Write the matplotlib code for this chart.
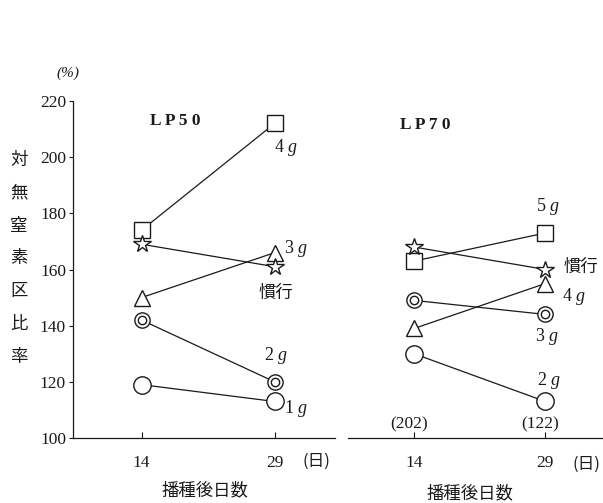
import matplotlib
matplotlib.use("Agg")
import matplotlib.pyplot as plt

plt.rcParams['font.family'] = ['Liberation Serif', 'Noto Sans CJK JP', 'DejaVu Sans']
plt.rcParams['mathtext.fontset'] = 'custom'
plt.rcParams['mathtext.it'] = 'Liberation Serif:italic'
plt.rcParams['mathtext.rm'] = 'Liberation Serif'

days = [14, 29]
day_ticks = ["14", "29"]
y_ticks = [100, 120, 140, 160, 180, 200, 220]

# LP50 series (ratio to no-nitrogen plot, %)
lp50_square = [174, 212]    # 4g
lp50_star = [169, 161]      # conventional
lp50_triangle = [150, 166]  # 3g
lp50_double = [142, 120]    # 2g
lp50_circle = [119, 113]    # 1g

# LP70 series
lp70_square = [163, 173]    # 5g
lp70_star = [168, 160]      # conventional
lp70_triangle = [139, 155]  # 4g
lp70_double = [149, 144]    # 3g
lp70_circle = [130, 113]    # 2g

lp70_base = ["(202)", "(122)"]

INK = "#1a1a1a"
JP = ['Noto Sans CJK JP', 'DejaVu Sans']

fig = plt.figure(figsize=(6.03, 5.03), dpi=100)
W, H = 603.0, 503.0

def px_axes(x0, x1, y_bottom, y_top):
    return fig.add_axes([x0 / W, (H - y_bottom) / H, (x1 - x0) / W, (y_bottom - y_top) / H])

ax1 = px_axes(73, 335, 438, 101)
ax2 = px_axes(348, 603, 438, 101)

ax1.set_xlim(6.28, 35.8)
ax2.set_xlim(6.44, 35.6)
for ax in (ax1, ax2):
    ax.set_ylim(100, 220)
    ax.set_facecolor("none")
    ax.spines['top'].set_visible(False)
    ax.spines['right'].set_visible(False)
    ax.spines['bottom'].set_color(INK)
    ax.spines['left'].set_color(INK)
    ax.spines['bottom'].set_linewidth(0.9)
    ax.spines['left'].set_linewidth(0.9)
    ax.set_xticks(days)
    ax.set_xticklabels(day_ticks, fontsize=12.5, color=INK)
    ax.tick_params(axis='x', direction='in', length=4, width=0.8, color=INK, pad=12)

ax1.set_yticks(y_ticks)
ax1.set_yticklabels([str(v) for v in y_ticks], fontsize=12.5, color=INK)
ax1.tick_params(axis='y', direction='out', length=3, width=0.8, color=INK, pad=2)
ax2.spines['left'].set_visible(False)
ax2.set_yticks([])

mk = dict(markerfacecolor='white', markeredgecolor=INK, markeredgewidth=1.0,
          color=INK, linewidth=0.9, clip_on=False)

def draw_panel(ax, square, star, triangle, double, circle):
    ax.plot(days, square, marker='s', markersize=12, zorder=3, **mk)
    ax.plot(days, star, marker='*', markersize=13, zorder=4, **mk)
    ax.plot(days, triangle, marker='^', markersize=11.5, zorder=3, **mk)
    ax.plot(days, double, marker='o', markersize=11, zorder=3, **mk)
    ax.plot(days, double, linestyle='none', marker='o', markersize=6,
            markerfacecolor='white', markeredgecolor=INK, markeredgewidth=1.0,
            zorder=5, clip_on=False)
    ax.plot(days, circle, marker='o', markersize=12.5, zorder=3, **mk)

draw_panel(ax1, lp50_square, lp50_star, lp50_triangle, lp50_double, lp50_circle)
draw_panel(ax2, lp70_square, lp70_star, lp70_triangle, lp70_double, lp70_circle)

def g_label(v):
    return f"{v} $\\mathit{{g}}$"

lab = dict(fontsize=13, color=INK, va='center')
# LP50 annotations
ax1.text(17.8, 213, "L P 5 0", fontsize=12.5, fontweight='bold', color=INK, va='center', ha='center')
ax1.text(30.3, 203.5, g_label(4), ha='center', **lab)
ax1.text(31.4, 167.5, g_label(3), ha='center', **lab)
ax1.text(29.2, 151.5, "慣行", ha='center', fontsize=12.5, color=INK, va='center', family=JP)
ax1.text(29.2, 129.5, g_label(2), ha='center', **lab)
ax1.text(31.4, 110.5, g_label(1), ha='center', **lab)

# LP70 annotations
ax2.text(15.3, 211.5, "L P 7 0", fontsize=12.5, fontweight='bold', color=INK, va='center', ha='center')
ax2.text(29.3, 182.5, g_label(5), ha='center', **lab)
ax2.text(33.1, 161, "慣行", ha='center', fontsize=12.5, color=INK, va='center', family=JP)
ax2.text(32.3, 150.5, g_label(4), ha='center', **lab)
ax2.text(29.2, 136, g_label(3), ha='center', **lab)
ax2.text(29.4, 120.5, g_label(2), ha='center', **lab)
for d, s in zip(days, lp70_base):
    ax2.text(d - 0.6, 105, s, ha='center', va='center', fontsize=12.5, color=INK)

# day-unit marks and x titles
fig.text(316 / W, 1 - 461 / H, "(日)", ha='center', va='center', fontsize=12, color=INK, family=JP)
fig.text(586 / W, 1 - 464 / H, "(日)", ha='center', va='center', fontsize=12, color=INK, family=JP)
fig.text(205 / W, 1 - 490 / H, "播種後日数", ha='center', va='center', fontsize=12.5, color=INK, family=JP)
fig.text(470 / W, 1 - 493 / H, "播種後日数", ha='center', va='center', fontsize=12.5, color=INK, family=JP)

# y unit and vertical y title
fig.text(68 / W, 1 - 73 / H, "(%)", ha='center', va='center', fontsize=11, style='italic', color=INK)
ylabel_chars = "対無窒素区比率"
for i, ch in enumerate(ylabel_chars):
    y = 160 + i * 32.8
    fig.text(19 / W, 1 - y / H, ch, ha='center', va='center', fontsize=12.5, color=INK, family=JP)

fig.savefig("out.png", dpi=100, facecolor='white')
